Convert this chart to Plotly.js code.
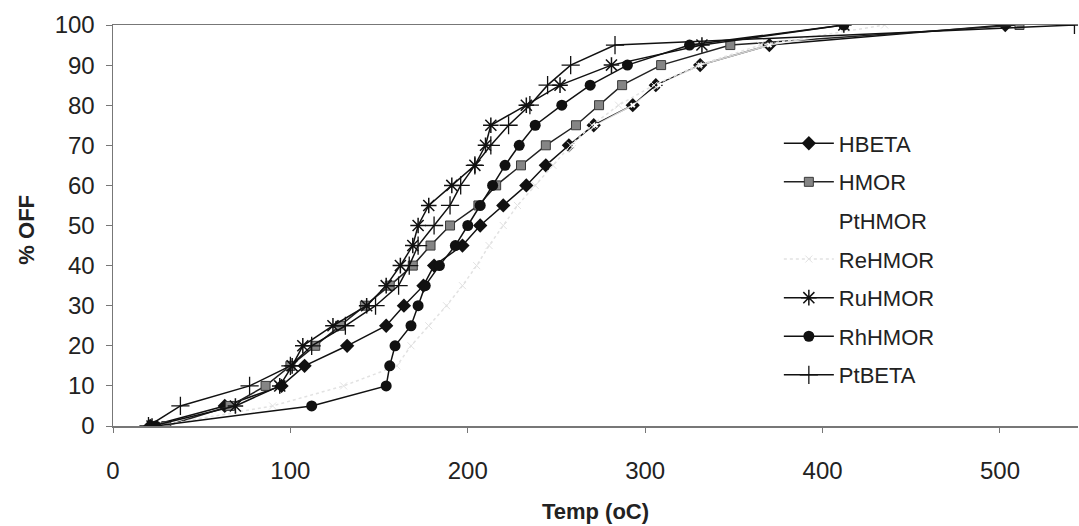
<!DOCTYPE html>
<html>
<head>
<meta charset="utf-8">
<script src="https://cdn.plot.ly/plotly-3.0.1.min.js"></script>
<style>
  html, body { margin: 0; padding: 0; background: #fff; }
  #chart { width: 1079px; height: 526px; }
</style>
</head>
<body>
<div id="chart"></div>
<script>
// % off (distillation fraction)
const pctOff = [0, 5, 10, 15, 20, 25, 30, 35, 40, 45, 50, 55, 60, 65, 70, 75, 80, 85, 90, 95, 100];

// temperatures (oC) per catalyst
const hbeta  = [21, 63, 95, 108, 132, 154, 164, 175, 181, 197, 207, 220, 233, 244, 257, 271, 293, 306, 331, 370, 503];
const hmor   = [30, 66, 86, 100, 114, 128, 142, 156, 169, 179, 190, 206, 216, 230, 244, 261, 274, 287, 309, 348, 511];
const pthmor = [26, 92, 132, 162, 170, 180, 190, 199, 207, 214, 222, 230, 240, 250, 260, 272, 293, 308, 331, 370, 438];
const rehmor = [25, 90, 130, 160, 168, 178, 188, 197, 205, 212, 220, 228, 238, 248, 258, 270, 285, 305, 330, 365, 435];
const ruhmor = [22, 69, 94, 101, 107, 124, 143, 154, 162, 169, 172, 178, 191, 204, 210, 213, 233, 252, 281, 332, 412];
const rhhmor = [24, 112, 154, 156, 159, 168, 172, 176, 184, 193, 200, 207, 214, 221, 229, 238, 253, 269, 290, 325, 412];
const ptbeta = [20, 38, 77, 100, 112, 131, 148, 161, 167, 172, 181, 190, 196, 204, 213, 223, 235, 245, 258, 283, 542];

const FONT = 'Liberation Sans, Arial, sans-serif';

function series(name, x, lineColor, marker, dash) {
  return {
    name: name,
    legendgroup: name,
    x: x,
    y: pctOff,
    type: 'scatter',
    mode: 'lines+markers',
    line: { color: lineColor, width: 1.5, dash: dash || 'solid' },
    marker: marker,
  };
}

const data = [
  series('HBETA', hbeta, '#111', { symbol: 'diamond', size: 11, color: '#111' }),
  series('HMOR', hmor, '#222', { symbol: 'square', size: 9, color: '#858585', line: { color: '#3a3a3a', width: 1 } }),
  series('PtHMOR', pthmor, 'rgba(255,255,255,0.8)', { symbol: 'x', size: 5, color: '#fff' }),
  series('ReHMOR', rehmor, '#e2e2e2', { symbol: 'x-thin-open', size: 7, color: '#e2e2e2', line: { color: '#e2e2e2', width: 1 } }, 'dot'),
  series('RuHMOR', ruhmor, '#111', { symbol: 'asterisk-open', size: 13, color: '#111', line: { color: '#111', width: 1.5 } }),
  series('RhHMOR', rhhmor, '#111', { symbol: 'circle', size: 11, color: '#111' }),
  series('PtBETA', ptbeta, '#111', { symbol: 'cross-thin-open', size: 13, color: '#111', line: { color: '#111', width: 1.3 } }),
];

const layout = {
  width: 1079,
  height: 526,
  margin: { l: 113, r: 1, t: 25, b: 100 },
  paper_bgcolor: '#fff',
  plot_bgcolor: '#fff',
  font: { family: FONT, color: '#222' },
  showlegend: true,
  legend: {
    x: 0.69,
    y: 0.757,
    xanchor: 'left',
    yanchor: 'top',
    font: { family: FONT, size: 22, color: '#222' },
    tracegroupgap: 7,
    itemwidth: 50,
    bgcolor: 'rgba(0,0,0,0)',
  },
  xaxis: {
    range: [0, 544],
    tickvals: [0, 100, 200, 300, 400, 500],
    showgrid: false,
    zeroline: false,
    showline: true,
    linecolor: '#777',
    linewidth: 1.5,
    mirror: true,
    ticks: 'outside',
    ticklen: 5,
    tickcolor: '#777',
    ticklabelstandoff: 18,
    tickfont: { family: FONT, size: 24, color: '#222' },
    title: {
      text: '<b>Temp (oC)</b>',
      standoff: 20,
      font: { family: FONT, size: 22, color: '#222' },
    },
  },
  yaxis: {
    range: [0, 100],
    dtick: 10,
    showgrid: false,
    zeroline: false,
    showline: true,
    linecolor: '#777',
    linewidth: 1.5,
    ticks: 'outside',
    ticklen: 6,
    tickcolor: '#777',
    ticklabelstandoff: 6,
    tickfont: { family: FONT, size: 24, color: '#222' },
  },
  annotations: [
    {
      text: '<b>% OFF</b>',
      xref: 'paper', yref: 'paper',
      x: -0.09, y: 0.49,
      xanchor: 'center', yanchor: 'middle',
      textangle: -90,
      showarrow: false,
      font: { family: FONT, size: 22, color: '#222' },
    },
  ],
};

Plotly.newPlot('chart', data, layout, { displayModeBar: false, staticPlot: true });
</script>
</body>
</html>
